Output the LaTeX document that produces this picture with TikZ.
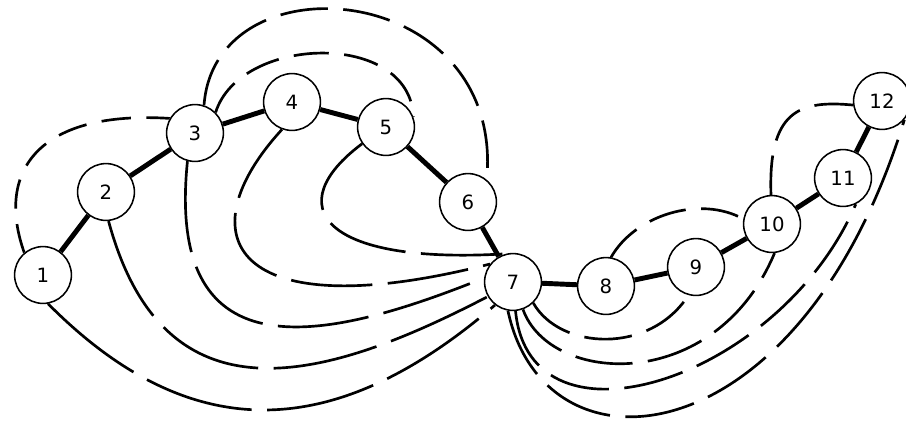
\documentclass[tikz,border=0pt]{standalone}
\usepackage{fontspec}
\setmainfont{DejaVu Sans}
\usepackage{tikz}

\begin{document}
\begin{tikzpicture}[
    x=0.025cm, y=-0.025cm,
    residue/.style={circle, draw, line width=1.1pt, fill=white, minimum size=1.42cm, inner sep=0pt, font=\fontsize{14}{16}\selectfont},
    bond/.style={line width=3.5pt},
    link/.style={line width=1.9pt, dash pattern=on #1 off 11pt},
    link/.default=40pt
]
\useasboundingbox (0,0) rectangle (906,423);

% Residues
\node[residue] (n1) at (43,275) {1};
\node[residue] (n2) at (106,192) {2};
\node[residue] (n3) at (195,133) {3};
\node[residue] (n4) at (292,102) {4};
\node[residue] (n5) at (386,127) {5};
\node[residue] (n6) at (468,202) {6};
\node[residue] (n7) at (513,282) {7};
\node[residue] (n8) at (606,286) {8};
\node[residue] (n9) at (696,267) {9};
\node[residue] (n10) at (772,224) {10};
\node[residue] (n11) at (843,178) {11};
\node[residue] (n12) at (882,101) {12};

% Backbone
\draw[bond] (n1) -- (n2);
\draw[bond] (n2) -- (n3);
\draw[bond] (n3) -- (n4);
\draw[bond] (n4) -- (n5);
\draw[bond] (n5) -- (n6);
\draw[bond] (n6) -- (n7);
\draw[bond] (n7) -- (n8);
\draw[bond] (n8) -- (n9);
\draw[bond] (n9) -- (n10);
\draw[bond] (n10) -- (n11);
\draw[bond] (n11) -- (n12);

% Contacts on the left
\draw[link=21pt] (n1.130) .. controls (-5,170) and (40,110) .. (n3.150);
\draw[link=25pt] (n3.45) .. controls (240,35) and (410,30) .. (n5.20);
\draw[link=34pt] (n3.72) .. controls (215,-45) and (505,-20) .. (n6.50);

% Contacts into 7 from the left
\draw[link=78pt] (n1.-80) .. controls (199,456) and (345,434) .. (n7.232);
\draw[link=75pt] (n2.275) .. controls (165,430) and (329,379) .. (n7.210);
\draw[link=65pt] (n3.255) .. controls (165,380) and (330,340) .. (n7.172);
\draw[link=58pt] (n4.250) .. controls (185,235) and (230,330) .. (n7.142);
\draw[link=58pt] (n5.215) .. controls (280,205) and (320,265) .. (n7.105);

% Contacts out of 7 to the right
\draw[link=34pt] (n7.-46) .. controls (560,350) and (650,355) .. (n9.255);
\draw[link=41pt] (n7.-70) .. controls (550,385) and (715,395) .. (n10.275);
\draw[link=43pt] (n7.-85) .. controls (530,460) and (780,380) .. (n11.-64);
\draw[link=50pt] (n7.-100) .. controls (545,485) and (800,460) .. (n12.-40);

% Contacts on the right
\draw[link=27pt] (n8.80) .. controls (635,215) and (700,195) .. (n10.170);
\draw[link=28pt] (n10.92) .. controls (768,110) and (800,100) .. (n12.188);

\end{tikzpicture}
\end{document}
